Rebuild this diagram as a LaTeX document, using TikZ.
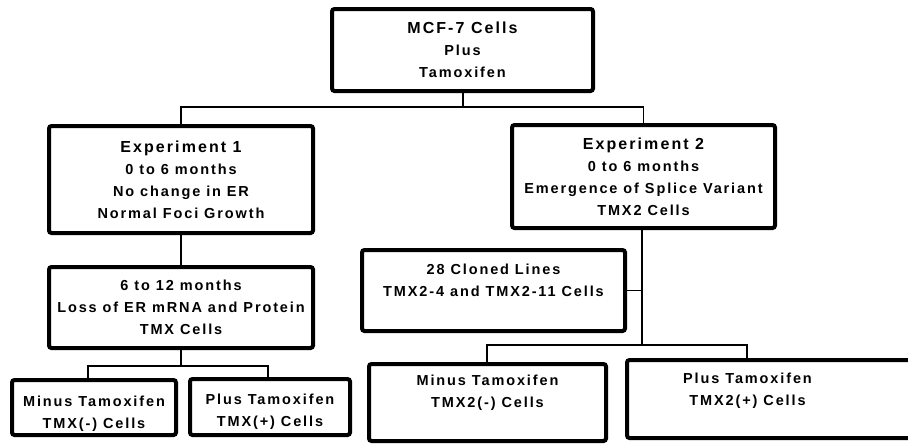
\documentclass[tikz,border=0pt]{standalone}
\usepackage{fontspec}
\newfontfamily\dfont{Liberation Sans}[LetterSpace=13]
\usetikzlibrary{calc}
\tikzset{
  box/.style={draw=black, line width=4pt, rounded corners=2.5pt, inner sep=0pt, outer sep=0pt, align=center,
    font=\dfont\bfseries\fontsize{14.5}{22}\selectfont},
  txt/.style={inner sep=0pt, align=center, font=\dfont\bfseries\fontsize{14.5}{22}\selectfont},
  conn/.style={draw=black, line width=1.8pt},
}
\newcommand{\hd}[1]{{\fontsize{16}{22}\selectfont #1}}
\begin{document}
\begin{tikzpicture}[x=1pt,y=-1pt]
\useasboundingbox (0,0) rectangle (908,445);
% boxes
\node[box, minimum width=261pt, minimum height=82pt] (top) at (462.5,50) {\hd{MCF-7 Cells}\\Plus\\Tamoxifen};
\node[box, minimum width=264pt, minimum height=107pt] (exp1) at (181,179.5) {\hd{Experiment 1}\\0 to 6 months\\No change in ER\\Normal Foci Growth};
\node[box, minimum width=264pt, minimum height=81pt] (tmx) at (181,307.5) {6 to 12 months\\Loss of ER mRNA and Protein\\TMX Cells};
\node[box, minimum width=164pt, minimum height=55pt] (minus1) at (94,407.5) {};
\node[txt, yshift=-6pt] (minus1t) at (minus1.center) {Minus Tamoxifen\\TMX(-) Cells};
\node[box, minimum width=160pt, minimum height=56pt] (plus1) at (270,407) {};
\node[txt, yshift=-5pt] (plus1t) at (plus1.center) {Plus Tamoxifen\\TMX(+) Cells};
\node[box, minimum width=263pt, minimum height=103pt] (exp2) at (643.5,176.5) {\hd{Experiment 2}\\0 to 6 months\\Emergence of Splice Variant\\TMX2 Cells};
\node[box, minimum width=263pt, minimum height=81pt] (clone) at (493.5,290.5) {};
\node[txt, yshift=-30pt] (clonet) at (clone.north) {28 Cloned Lines\\TMX2-4 and TMX2-11 Cells};
\node[box, minimum width=237pt, minimum height=77pt] (minus2) at (487.5,402.5) {};
\node[txt, yshift=-29pt] (minus2t) at (minus2.north) {Minus Tamoxifen\\TMX2(-) Cells};
\node[box, minimum width=291pt, minimum height=78pt] (plus2) at (772.5,399) {};
\node[txt, yshift=-31pt] (plus2t) at ($(plus2.north)+(-25,0)$) {Plus Tamoxifen\\TMX2(+) Cells};
% connectors
\coordinate (j1) at (463,107);
\draw[conn] (top.south -| j1) -- (j1);
\draw[conn] (exp1.north) |- (j1) -| (exp2.north);
\draw[conn] (exp1.south) -- (tmx.north);
\coordinate (j2) at (181,366);
\coordinate (b1l) at (88,366);
\coordinate (b1r) at (268,366);
\draw[conn] (tmx.south) -- (j2);
\draw[conn] (b1l |- minus1.north) -- (b1l) -- (b1r) -- (b1r |- plus1.north);
\coordinate (j3) at (642,345);
\coordinate (b2l) at (487,345);
\coordinate (b2r) at (747,345);
\draw[conn] (exp2.south -| j3) -- (j3);
\draw[conn] (clone.east) -- (clone.east -| j3);
\draw[conn] (b2l |- minus2.north) -- (b2l) -- (b2r) -- (b2r |- plus2.north);
\end{tikzpicture}
\end{document}
